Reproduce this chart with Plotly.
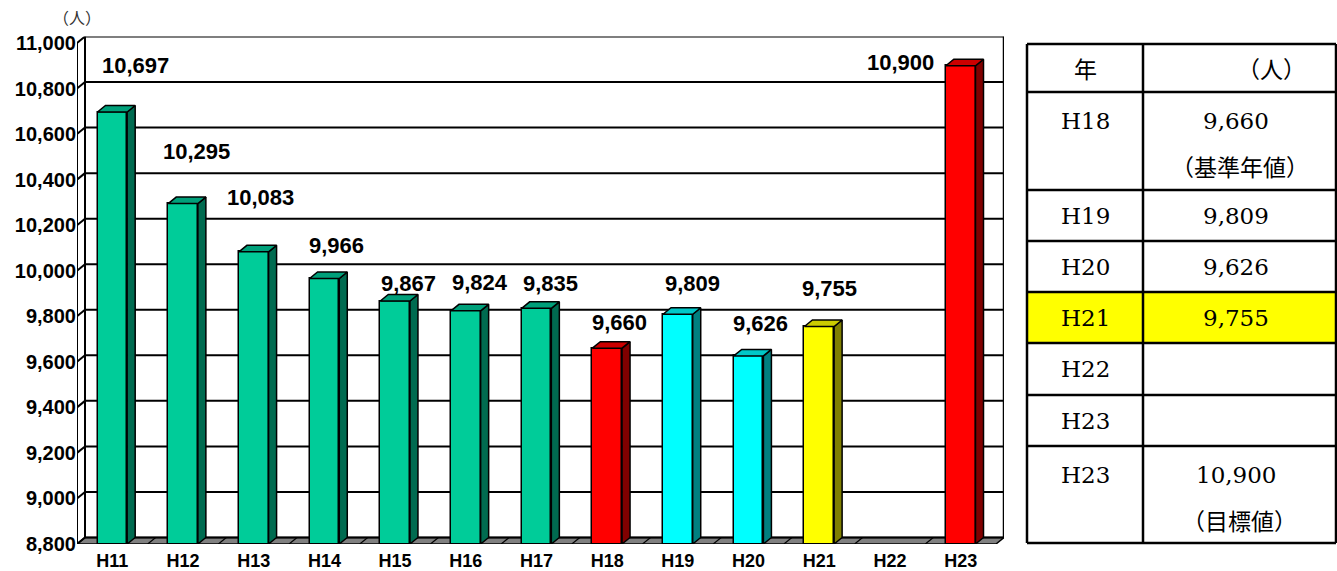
import plotly.graph_objects as go

# ---------------- data ----------------
categories = ["H11", "H12", "H13", "H14", "H15", "H16", "H17",
              "H18", "H19", "H20", "H21", "H22", "H23"]
values = [10697, 10295, 10083, 9966, 9867, 9824, 9835,
          9660, 9809, 9626, 9755, None, 10900]
series_kind = ["past", "past", "past", "past", "past", "past", "past",
               "base", "recent", "recent", "current", "none", "target"]
y_ticks = list(range(8800, 11001, 200))
y_unit = "（人）"

table_header = ["年", "（人）"]
table_years = ["H18", "H19", "H20", "H21", "H22", "H23", "H23"]
table_values = ["9,660", "9,809", "9,626", "9,755", "", "", "10,900"]
table_notes = ["（基準年値）", "", "", "", "", "", "（目標値）"]
table_highlight = "H21"

# ---------------- styles ----------------
palette = {
    "past":    ("#00CC99", "#00A07A", "#006B50"),
    "base":    ("#FF0000", "#CC0000", "#800000"),
    "recent":  ("#00FFFF", "#00C8C8", "#008080"),
    "current": ("#FFFF00", "#CCCC00", "#808000"),
    "target":  ("#FF0000", "#CC0000", "#800000"),
}
# label offsets in pixels (right, up) relative to bar top centre
label_dx = [23, 13, 7, 12, 13, 14, 14, 12, 15, 12, 10, 0, -60]
label_dy = [46, 52, 54, 33, 18, 28, 25, 26, 31, 32, 38, 0, 3]

W, H = 1337, 571
OFF = 0                   # page body margin (removed by post script)
n = len(categories)
X0, XF = 77, 996          # front plane left/right (page px)
YF_B, YF_T = 544, 43      # front plane bottom (8800) / top (11000) (page px)
DXP, DYP = 8, 6.5         # depth offset px
ymin, ymax = y_ticks[0], y_ticks[-1]
ppc = (XF - X0) / n
ppu = (YF_B - YF_T) / (ymax - ymin)
DX = DXP / ppc
DY = DYP / ppu
xr = [-0.5, n - 0.5 + DX]
yr = [ymin, ymax + DY]
X1 = X0 + (xr[1] - xr[0]) * ppc
Y1 = YF_T - DYP


def px(x):
    return (x - OFF) / W


def py(y):
    return 1 - (y - OFF) / H


BW = 0.42
AX_FONT = "Liberation Sans, Arial, sans-serif"
SERIF = "DejaVu Serif, Liberation Serif, serif"
CJK = "Noto Sans CJK JP, sans-serif"

fig = go.Figure()

# front faces
for kind in palette:
    xs = [i for i, k in enumerate(series_kind) if k == kind]
    fig.add_trace(go.Bar(
        x=xs, y=[values[i] - ymin for i in xs], base=ymin, width=BW,
        marker=dict(color=palette[kind][0], line=dict(color="black", width=1.5)),
        showlegend=False, hoverinfo="skip"))

# side and top faces
for kind in palette:
    sx, sy, tx, ty = [], [], [], []
    for i, k in enumerate(series_kind):
        if k != kind or values[i] is None:
            continue
        v = values[i]
        l, r = i - BW / 2, i + BW / 2
        sx += [r, r, r + DX, r + DX, r, None]
        sy += [ymin, v, v + DY, ymin + DY, ymin, None]
        tx += [l, r, r + DX, l + DX, l, None]
        ty += [v, v, v + DY, v + DY, v, None]
    fig.add_trace(go.Scatter(x=sx, y=sy, mode="lines", fill="toself",
                             fillcolor=palette[kind][2],
                             line=dict(color="black", width=1.5),
                             showlegend=False, hoverinfo="skip"))
    fig.add_trace(go.Scatter(x=tx, y=ty, mode="lines", fill="toself",
                             fillcolor=palette[kind][1],
                             line=dict(color="black", width=1.5),
                             showlegend=False, hoverinfo="skip"))

shapes = []
L = -0.5
R = n - 0.5
# floor
shapes.append(dict(type="path", xref="x", yref="y", layer="below",
                   path=f"M{L},{ymin} L{R},{ymin} L{R+DX},{ymin+DY} L{L+DX},{ymin+DY} Z",
                   fillcolor="#808080", line=dict(color="black", width=1.5)))
for k in range(1, n):
    b = k - 0.5
    shapes.append(dict(type="line", xref="x", yref="y", layer="below",
                       x0=b, y0=ymin, x1=b + DX, y1=ymin + DY,
                       line=dict(color="black", width=1.2)))
# grid lines (left wall + back wall)
for v in y_ticks:
    shapes.append(dict(type="line", xref="x", yref="y", layer="below",
                       x0=L, y0=v, x1=L + DX, y1=v + DY,
                       line=dict(color="black", width=2)))
    shapes.append(dict(type="line", xref="x", yref="y", layer="below",
                       x0=L + DX, y0=v + DY, x1=R + DX, y1=v + DY,
                       line=dict(color="black", width=2)))
# wall edges
shapes.append(dict(type="line", xref="x", yref="y", layer="below",
                   x0=L, y0=ymin, x1=L, y1=ymax, line=dict(color="black", width=2)))
shapes.append(dict(type="line", xref="x", yref="y", layer="below",
                   x0=L + DX, y0=ymin + DY, x1=L + DX, y1=ymax + DY,
                   line=dict(color="black", width=2)))
shapes.append(dict(type="line", xref="x", yref="y", layer="below",
                   x0=R + DX, y0=ymin + DY, x1=R + DX, y1=ymax + DY,
                   line=dict(color="black", width=2.5)))

annotations = []
for i, v in enumerate(values):
    if v is None:
        continue
    annotations.append(dict(x=i, y=v, xref="x", yref="y", text=f"{v:,}",
                            showarrow=False, xshift=label_dx[i], yshift=label_dy[i],
                            xanchor="center", yanchor="middle",
                            font=dict(family=AX_FONT, size=22, color="black", weight="bold")))

annotations.append(dict(x=px(77), y=py(17), xref="paper", yref="paper",
                        text=y_unit, showarrow=False, xanchor="center", yanchor="middle",
                        font=dict(family=CJK, size=16, color="#333333")))

# ---------------- table ----------------
TL, TM, TR = 1027, 1143, 1336
row_edges = [44, 92, 190, 241, 292, 343, 395, 446, 543]
hi = table_years.index(table_highlight)
shapes.append(dict(type="rect", xref="paper", yref="paper",
                   x0=px(TL), x1=px(TR), y0=py(row_edges[hi + 2]), y1=py(row_edges[hi + 1]),
                   fillcolor="#FFFF00", line=dict(width=0)))
for e in row_edges:
    shapes.append(dict(type="line", xref="paper", yref="paper",
                       x0=px(TL), x1=px(TR), y0=py(e), y1=py(e),
                       line=dict(color="black", width=2.5)))
for xv in (TL, TM, TR):
    shapes.append(dict(type="line", xref="paper", yref="paper",
                       x0=px(xv), x1=px(xv), y0=py(row_edges[0]), y1=py(row_edges[-1]),
                       line=dict(color="black", width=2.5)))

c1 = (TL + TM) / 2
c2 = (TM + TR) / 2
annotations.append(dict(x=px(c1), y=py(68), xref="paper", yref="paper", text=table_header[0],
                        showarrow=False, xanchor="center", yanchor="middle",
                        font=dict(family=CJK, size=23, color="black")))
annotations.append(dict(x=px(1308), y=py(68), xref="paper", yref="paper", text=table_header[1],
                        showarrow=False, xanchor="right", yanchor="middle",
                        font=dict(family=CJK, size=23, color="black")))
for r, (yr_, val, note) in enumerate(zip(table_years, table_values, table_notes)):
    top = row_edges[r + 1]
    ty = top + 26 if note == "" else top + 29
    annotations.append(dict(x=px(c1), y=py(ty), xref="paper", yref="paper", text=yr_,
                            showarrow=False, xanchor="center", yanchor="middle",
                            font=dict(family=SERIF, size=23, color="black")))
    if val:
        annotations.append(dict(x=px(c2 - 4), y=py(ty), xref="paper", yref="paper", text=val,
                                showarrow=False, xanchor="center", yanchor="middle",
                                font=dict(family=SERIF, size=23, color="black")))
    if note:
        annotations.append(dict(x=px(c2), y=py(ty + 45), xref="paper", yref="paper", text=note,
                                showarrow=False, xanchor="center", yanchor="middle",
                                font=dict(family=CJK, size=23, color="black")))

fig.update_layout(
    width=W, height=H, margin=dict(l=0, r=0, t=0, b=0, autoexpand=False),
    paper_bgcolor="white", plot_bgcolor="white",
    barmode="overlay", bargap=0,
    shapes=shapes, annotations=annotations, showlegend=False,
    xaxis=dict(domain=[px(X0), px(X1)], range=xr, tickvals=list(range(n)),
               ticktext=categories, showgrid=False, zeroline=False, showline=False,
               ticks="", fixedrange=True, automargin=False, ticklabelstandoff=4,
               tickfont=dict(family=AX_FONT, size=18, color="black", weight="bold")),
    yaxis=dict(domain=[py(YF_B), py(Y1)], range=yr, tickvals=y_ticks,
               ticktext=[f"{v:,}" for v in y_ticks], showgrid=False, zeroline=False,
               showline=False, ticks="", fixedrange=True, automargin=False,
               tickfont=dict(family=AX_FONT, size=20, color="black", weight="bold")),
)

fig.write_html("out.html", config={"displayModeBar": False},
               post_script="document.body.style.margin='0px';document.body.style.overflow='hidden';")
